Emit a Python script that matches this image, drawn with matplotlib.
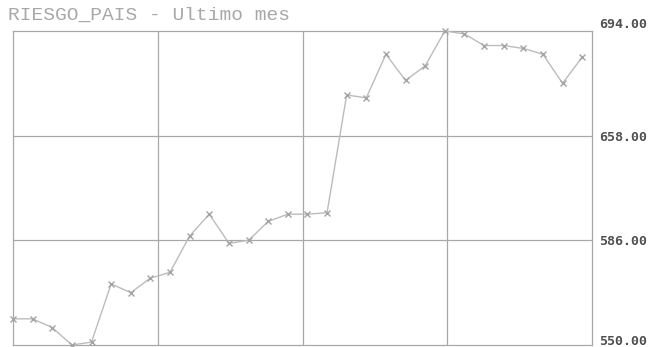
import numpy as np
import matplotlib
matplotlib.use("Agg")
import matplotlib.pyplot as plt

# Country-risk index, daily closes over the last month
days = list(range(30))
riesgo = [559, 559, 556, 550, 551, 571, 568, 573, 575, 589,
          604, 585, 586, 599, 604, 604, 605, 672, 671, 686,
          677, 682, 694, 693, 689, 689, 688, 686, 676, 685]

tick_values = [550, 586, 658, 694]
tick_labels = ["550.00", "586.00", "658.00", "694.00"]
title = "RIESGO_PAIS - Ultimo mes"

GRID = "#a8a8a8"
LINE = "#bcbcbc"
MARK = "#a4a4a4"
LABEL = "#505050"

W, H = 661, 347
fig = plt.figure(figsize=(W / 100, H / 100), dpi=100)
fig.patch.set_facecolor("white")
ax = fig.add_axes([13 / W, 1 - 345 / H, (592 - 13) / W, (345 - 31) / H])

# Value axis: each labelled level sits on an evenly spaced gridline
idx = np.arange(len(tick_values), dtype=float)
fwd = lambda v: np.interp(v, tick_values, idx)
inv = lambda u: np.interp(u, idx, tick_values)
ax.set_yscale("function", functions=(fwd, inv))
ax.set_ylim(tick_values[0], tick_values[-1])
ax.set_xlim(0, 29.5)

ax.plot(days, riesgo, color=LINE, lw=1.0, marker="x", ms=5, mew=1.0,
        mec=MARK, zorder=3, clip_on=False)

# Grid: four columns, three rows
for gx in np.linspace(0, 29.5, 5)[1:-1]:
    ax.axvline(gx, color=GRID, lw=0.9, zorder=1)
for gv in tick_values[1:-1]:
    ax.axhline(gv, color=GRID, lw=0.9, zorder=1)

for s in ax.spines.values():
    s.set_color(GRID)
    s.set_linewidth(0.9)

ax.set_xticks([])
ax.yaxis.tick_right()
ax.set_yticks(tick_values)
ax.set_yticklabels(tick_labels)
ax.yaxis.set_minor_locator(matplotlib.ticker.NullLocator())
ax.tick_params(axis="y", length=0, pad=5, labelsize=9.5, labelcolor=LABEL)
labels = ax.get_yticklabels()
for lab in labels:
    lab.set_fontfamily("DejaVu Sans Mono")
    lab.set_fontweight("bold")
# End labels sit on / just above their gridlines
labels[0].set_va("baseline")
labels[1].set_va("center_baseline")
labels[-1].set_va("bottom")

fig.text(8 / W, 1 - 15 / H, title, fontsize=14, color="#a8a8a8",
         family="Liberation Mono", va="center", ha="left")

fig.savefig("out.png", dpi=100, facecolor="white")
